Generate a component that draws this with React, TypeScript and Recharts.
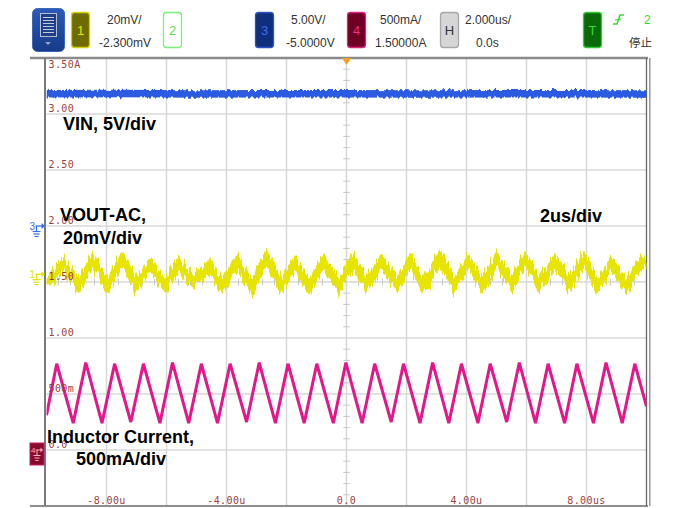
import React from 'react';
import { LineChart, Line, XAxis, YAxis, ReferenceLine, ReferenceDot } from 'recharts';

const CHART_W = 677;
const CHART_H = 508;

// ---- axes / grid ----
const xGridTimes = [-8, -6, -4, -2, 0, 2, 4, 6, 8];
const yGridLevels = [3.0, 2.5, 2.0, 1.5, 1.0, 0.5, 0.0];
const yTickValues = [3.5, 3.0, 2.5, 2.0, 1.5, 1.0, 0.5, 0.0];
const yTickLabels = ['3.50A', '3.00', '2.50', '2.00', '1.50', '1.00', '500m', '0.0'];
const xTickValues = [-8, -4, 0, 4, 8];
const xTickLabels = ['-8.00u', '-4.00u', '0.0', '4.00u', '8.00us'];
const minorYTicks = Array.from({ length: 41 }, (_, i) => -0.5 + i * 0.1).filter(
  (v) => Math.abs(v * 2 - Math.round(v * 2)) > 0.01
);
const minorXTicks = Array.from({ length: 51 }, (_, i) => -10 + i * 0.4).filter(
  (v) => Math.abs(v / 2 - Math.round(v / 2)) > 0.01
);

// ---- channel 3 : VIN ----
const vinTimes = [-10, -7.5, -5, -2.5, 0, 2.5, 5, 7.5, 10];
const vinValues = [3.18, 3.182, 3.179, 3.181, 3.18, 3.178, 3.181, 3.18, 3.179];

// ---- channel 1 : VOUT-AC ----
const voutTimes = [
  -10, -9.88, -9.45, -8.95, -8.47, -7.98, -7.48, -7.0, -6.52, -6.05, -5.58, -5.1, -4.6, -4.12,
  -3.64, -3.15, -2.66, -2.2, -1.72, -1.25, -0.76, -0.28, 0.2, 0.68, 1.17, 1.65, 2.12, 2.6, 3.12,
  3.58, 4.06, 4.55, 5.0, 5.5, 5.96, 6.45, 6.94, 7.42, 7.9, 8.38, 8.86, 9.34, 9.85, 10,
];
const voutValues = [
  1.52, 1.49, 1.66, 1.47, 1.69, 1.48, 1.7, 1.47, 1.65, 1.47, 1.67, 1.49, 1.66, 1.46, 1.68, 1.47,
  1.71, 1.48, 1.67, 1.46, 1.68, 1.47, 1.69, 1.47, 1.68, 1.49, 1.69, 1.46, 1.72, 1.48, 1.68, 1.47,
  1.7, 1.48, 1.7, 1.49, 1.69, 1.47, 1.7, 1.46, 1.66, 1.47, 1.68, 1.64,
];

// ---- channel 4 : inductor current ----
const ilTimes = [
  -10, -9.66, -9.11, -8.69, -8.15, -7.73, -7.19, -6.77, -6.22, -5.8, -5.26, -4.84, -4.3, -3.88,
  -3.33, -2.91, -2.37, -1.95, -1.41, -0.99, -0.44, -0.02, 0.52, 0.94, 1.49, 1.9, 2.45, 2.87, 3.41,
  3.83, 4.38, 4.79, 5.34, 5.76, 6.3, 6.72, 7.27, 7.68, 8.23, 8.65, 9.19, 9.61, 10,
];
const ilValues = [
  0.31, 0.77, 0.24, 0.78, 0.24, 0.77, 0.25, 0.77, 0.24, 0.78, 0.24, 0.77, 0.24, 0.77, 0.25, 0.78,
  0.24, 0.77, 0.24, 0.77, 0.24, 0.78, 0.24, 0.77, 0.25, 0.77, 0.24, 0.78, 0.24, 0.77, 0.24, 0.77,
  0.25, 0.78, 0.24, 0.77, 0.24, 0.77, 0.24, 0.78, 0.24, 0.77, 0.39,
];

const toSeries = (ts: number[], vs: number[]) => ts.map((t, i) => ({ t, v: vs[i] }));
const vinData = toSeries(vinTimes, vinValues);
const voutData = toSeries(voutTimes, voutValues);
const ilData = toSeries(ilTimes, ilValues);

const LABEL_RED = '#9c3f3f';
const MONO = '"DejaVu Sans Mono", "Liberation Mono", monospace';
const SANS = '"Liberation Sans", Arial, sans-serif';
const GRID = '#d8d8d8';

const GroundMarker = (color: string, label: string) => (p: any) => {
  const { cx, cy } = p;
  return (
    <g>
      <text x={cx - 17} y={cy + 3.5} fontSize={10} fill={color} fontFamily={SANS}>
        {label}
      </text>
      <line x1={cx - 11} y1={cy} x2={cx - 4} y2={cy} stroke={color} strokeWidth={1.3} />
      <path d={`M${cx - 5},${cy - 3} L${cx - 1.5},${cy} L${cx - 5},${cy + 3} Z`} fill={color} />
      <line x1={cx - 10} y1={cy} x2={cx - 10} y2={cy + 5} stroke={color} strokeWidth={1.2} />
      <line x1={cx - 14} y1={cy + 5.5} x2={cx - 6} y2={cy + 5.5} stroke={color} strokeWidth={1.2} />
      <line x1={cx - 13} y1={cy + 8} x2={cx - 7} y2={cy + 8} stroke={color} strokeWidth={1.2} />
      <line x1={cx - 12} y1={cy + 10.5} x2={cx - 8} y2={cy + 10.5} stroke={color} strokeWidth={1.2} />
    </g>
  );
};

const Ch4Marker = (p: any) => {
  const { cx, cy } = p;
  const c = '#f2b0cc';
  return (
    <g>
      <rect x={cx - 16.5} y={cy - 7} width={14} height={22} fill="#8a0a2c" stroke="#c21f55" strokeWidth={1} />
      <text x={cx - 15.5} y={cy + 3} fontSize={8} fill={c} fontFamily={SANS}>
        4
      </text>
      <line x1={cx - 11} y1={cy} x2={cx - 5} y2={cy} stroke={c} strokeWidth={1} />
      <path d={`M${cx - 6},${cy - 2.5} L${cx - 3.5},${cy} L${cx - 6},${cy + 2.5} Z`} fill={c} />
      <line x1={cx - 9.5} y1={cy} x2={cx - 9.5} y2={cy + 5} stroke={c} strokeWidth={1} />
      <line x1={cx - 13} y1={cy + 5.5} x2={cx - 6} y2={cy + 5.5} stroke={c} strokeWidth={1} />
      <line x1={cx - 12} y1={cy + 8} x2={cx - 7} y2={cy + 8} stroke={c} strokeWidth={1} />
      <line x1={cx - 11} y1={cy + 10.5} x2={cx - 8} y2={cy + 10.5} stroke={c} strokeWidth={1} />
    </g>
  );
};

const TriggerMarker = (p: any) => {
  const { cx, cy } = p;
  return <path d={`M${cx - 4.5},${cy} L${cx + 4.5},${cy} L${cx},${cy + 7} Z`} fill="#f5a020" />;
};

const YLabel = (text: string, below: boolean) => (p: any) => (
  <text
    x={p.cx + 2}
    y={below ? p.cy + 10 : p.cy - 2}
    fontSize={10}
    fill={LABEL_RED}
    fontFamily={MONO}
    letterSpacing={0.4}
  >
    {text}
  </text>
);

const XLabel = (text: string) => (p: any) => (
  <text
    x={p.cx}
    y={p.cy - 2.5}
    fontSize={10}
    fill={LABEL_RED}
    fontFamily={MONO}
    letterSpacing={0.4}
    textAnchor="middle"
  >
    {text}
  </text>
);

const ChannelBox = ({
  x,
  label,
  fill,
  stroke,
  color,
}: {
  x: number;
  label: string;
  fill: string;
  stroke: string;
  color: string;
}) => (
  <g>
    <rect x={x + 0.5} y={12.5} width={18} height={35} rx={3} fill={fill} stroke={stroke} strokeWidth={1.3} />
    <text x={x + 9.5} y={35} fontSize={13} fill={color} fontFamily={SANS} textAnchor="middle">
      {label}
    </text>
  </g>
);

const HText = ({ x, y, children, anchor }: any) => (
  <text x={x} y={y} fontSize={12} fill="#333" fontFamily={SANS} textAnchor={anchor || 'start'}>
    {children}
  </text>
);

const Note = ({ x, y, children }: any) => (
  <text x={x} y={y} fontSize={18} fontWeight="bold" fill="#000" fontFamily={SANS}>
    {children}
  </text>
);

export default function App() {
  return (
    <div style={{ position: 'absolute', left: 0, top: 0, width: CHART_W, height: CHART_H, background: '#fff' }}>
      <style>{`.ch1 path{filter:url(#noiseY)} .ch3 path{filter:url(#noiseB)}`}</style>
      <svg width={0} height={0} style={{ position: 'absolute' }}>
        <defs>
          <filter
            id="noiseY"
            filterUnits="userSpaceOnUse"
            x={0}
            y={0}
            width={CHART_W}
            height={CHART_H}
            colorInterpolationFilters="sRGB"
          >
            <feTurbulence type="fractalNoise" baseFrequency="0.5 0.012" numOctaves={2} seed={3} result="t" />
            <feColorMatrix
              in="t"
              type="matrix"
              values="0 0 0 0 0.5  1 0 0 0 0  0 0 0 0 0  0 0 0 0 1"
              result="m"
            />
            <feDisplacementMap in="SourceGraphic" in2="m" scale={22} xChannelSelector="R" yChannelSelector="G" />
          </filter>
          <filter
            id="noiseB"
            filterUnits="userSpaceOnUse"
            x={0}
            y={0}
            width={CHART_W}
            height={CHART_H}
            colorInterpolationFilters="sRGB"
          >
            <feTurbulence type="fractalNoise" baseFrequency="0.35 0.02" numOctaves={2} seed={7} result="t" />
            <feColorMatrix
              in="t"
              type="matrix"
              values="0 0 0 0 0.5  1 0 0 0 0  0 0 0 0 0  0 0 0 0 1"
              result="m"
            />
            <feDisplacementMap in="SourceGraphic" in2="m" scale={6} xChannelSelector="R" yChannelSelector="G" />
          </filter>
        </defs>
      </svg>

      <div style={{ position: 'absolute', left: 0, top: 0 }}>
        <LineChart width={CHART_W} height={CHART_H} margin={{ top: 58, right: 30.5, bottom: 2, left: 46.5 }}>
          <XAxis type="number" dataKey="t" domain={[-10, 10]} hide allowDataOverflow />
          <YAxis type="number" dataKey="v" domain={[-0.5, 3.5]} hide allowDataOverflow />

          {xGridTimes.map((t) => (
            <ReferenceLine key={'gx' + t} x={t} stroke={GRID} strokeWidth={1.5} />
          ))}
          {yGridLevels.map((v) => (
            <ReferenceLine key={'gy' + v} y={v} stroke={GRID} strokeWidth={1.5} />
          ))}
          {minorYTicks.map((v) => (
            <ReferenceLine
              key={'my' + v}
              segment={[
                { x: -0.11, y: v },
                { x: 0.11, y: v },
              ]}
              stroke="#c8c8c8"
              strokeWidth={1}
            />
          ))}
          {minorXTicks.map((t) => (
            <ReferenceLine
              key={'mx' + t}
              segment={[
                { x: t, y: 1.47 },
                { x: t, y: 1.53 },
              ]}
              stroke="#c8c8c8"
              strokeWidth={1}
            />
          ))}

          {/* frame */}
          <ReferenceLine
            segment={[
              { x: -10.55, y: 3.5 },
              { x: 10.05, y: 3.5 },
            ]}
            stroke="#8a8a8a"
            strokeWidth={2.5}
            ifOverflow="visible"
          />
          <ReferenceLine
            segment={[
              { x: -10.55, y: -0.5 },
              { x: 10.05, y: -0.5 },
            ]}
            stroke="#6a6a6a"
            strokeWidth={1.5}
            ifOverflow="visible"
          />
          <ReferenceLine x={-10.05} stroke="#7a7a7a" strokeWidth={2} ifOverflow="visible" />
          <ReferenceLine x={10} stroke="#666" strokeWidth={1.3} ifOverflow="visible" />
          <ReferenceLine x={10.11} stroke="#888" strokeWidth={1.3} ifOverflow="visible" />

          {yTickValues.map((v, i) => (
            <ReferenceDot
              key={'yl' + v}
              x={-10}
              y={v}
              ifOverflow="visible"
              shape={YLabel(yTickLabels[i], i === 0)}
            />
          ))}
          {xTickValues.map((t, i) => (
            <ReferenceDot key={'xl' + t} x={t} y={-0.5} ifOverflow="visible" shape={XLabel(xTickLabels[i])} />
          ))}

          <Line
            className="ch3"
            data={vinData}
            dataKey="v"
            type="linear"
            stroke="#2b5be0"
            strokeWidth={7.5}
            dot={false}
            isAnimationActive={false}
          />
          <Line
            className="ch1"
            data={voutData}
            dataKey="v"
            type="linear"
            stroke="#e6e400"
            strokeWidth={8.5}
            dot={false}
            isAnimationActive={false}
          />
          <Line
            data={ilData}
            dataKey="v"
            type="linear"
            stroke="#e4168a"
            strokeWidth={3}
            dot={false}
            isAnimationActive={false}
          />

          <ReferenceDot x={-10} y={2.0} ifOverflow="visible" shape={GroundMarker('#3a6df0', '3')} />
          <ReferenceDot x={-10} y={1.57} ifOverflow="visible" shape={GroundMarker('#e2e200', '1')} />
          <ReferenceDot x={-10} y={0} ifOverflow="visible" shape={Ch4Marker} />
          <ReferenceDot x={0} y={3.5} ifOverflow="visible" shape={TriggerMarker} />
        </LineChart>
      </div>

      <svg
        width={CHART_W}
        height={CHART_H}
        style={{ position: 'absolute', left: 0, top: 0, pointerEvents: 'none' }}
      >
        <defs>
          <linearGradient id="iconGrad" x1="0" y1="0" x2="0" y2="1">
            <stop offset="0" stopColor="#2a5cb8" />
            <stop offset="1" stopColor="#163a88" />
          </linearGradient>
        </defs>
        {/* menu icon */}
        <rect x={32.5} y={8.5} width={32} height={43} rx={5} fill="url(#iconGrad)" stroke="#3c66bc" />
        <rect x={40.5} y={13.5} width={16} height={23} fill="#1d3f8c" stroke="#b8bccc" strokeWidth={1} />
        {[17.5, 20.5, 23.5, 26.5, 29.5, 32.5].map((y) => (
          <line key={y} x1={43} y1={y} x2={54} y2={y} stroke="#c8ccd8" strokeWidth={1} />
        ))}
        <path d="M45,42 L51,42 L48,45 Z" fill="#9aa4c0" />

        <ChannelBox x={71} label="1" fill="#6e6c00" stroke="#d4d200" color="#e8e600" />
        <HText x={107} y={23.5}>20mV/</HText>
        <HText x={99} y={47}>-2.300mV</HText>

        <ChannelBox x={163} label="2" fill="#ffffff" stroke="#7aee7a" color="#55dd55" />

        <ChannelBox x={255} label="3" fill="#0f2f7c" stroke="#2c52c4" color="#3a6df0" />
        <HText x={291} y={23.5}>5.00V/</HText>
        <HText x={286} y={47}>-5.0000V</HText>

        <ChannelBox x={347} label="4" fill="#6e0024" stroke="#e0207a" color="#e8308c" />
        <HText x={380} y={23.5}>500mA/</HText>
        <HText x={375} y={47}>1.50000A</HText>

        <ChannelBox x={440} label="H" fill="#d6d6d6" stroke="#a8a8a8" color="#333" />
        <HText x={465} y={23.5}>2.000us/</HText>
        <HText x={476} y={47}>0.0s</HText>

        <ChannelBox x={583} label="T" fill="#0a6a0a" stroke="#33cc33" color="#3ade3a" />
        <path d="M613,24 L617,24 L620,15 L624,15" stroke="#33dd33" strokeWidth={1.5} fill="none" />
        <line x1={615} y1={20} x2={621} y2={19} stroke="#33dd33" strokeWidth={1.2} />
        <text x={644} y={23.5} fontSize={12} fill="#33dd33" fontFamily={SANS}>
          2
        </text>
        <text x={629} y={46.5} fontSize={11.5} fill="#333" fontFamily='"Noto Sans CJK SC", sans-serif'>
          停止
        </text>

        {/* annotations */}
        <Note x={63} y={130}>VIN, 5V/div</Note>
        <Note x={60} y={221}>VOUT-AC,</Note>
        <Note x={63} y={243.5}>20mV/div</Note>
        <Note x={540} y={221.5}>2us/div</Note>
        <Note x={47} y={443}>Inductor Current,</Note>
        <Note x={76} y={465}>500mA/div</Note>
      </svg>
    </div>
  );
}
